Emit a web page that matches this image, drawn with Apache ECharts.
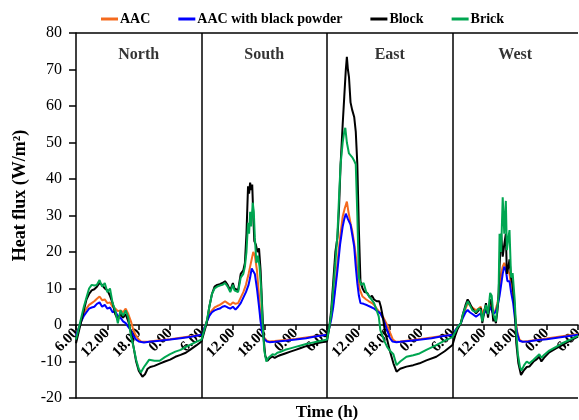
<!DOCTYPE html>
<html>
<head>
<meta charset="utf-8">
<script src="https://cdn.jsdelivr.net/npm/echarts@6/dist/echarts.min.js"></script>
<style>
  html, body { margin: 0; padding: 0; background: #fff; }
  #chart { width: 579px; height: 420px; }
</style>
</head>
<body>
<div id="chart"></div>
<script>
// each wall covers 24 h starting at 6.00; hours below count from that 6.00
const walls = ["North", "South", "East", "West"];
const hourLabels = ["6.00", "12.00", "18.00", "0.00"];
const names = ["AAC", "AAC with black powder", "Block", "Brick"];
const colors = ["#F46A1E", "#0000FF", "#000000", "#00A651"];

// AAC
const aacN = [[0,-3],[0.5,-1],[1,1],[1.5,3],[2,4.5],[2.5,5.5],[3,6],[3.5,6.5],[4,7.2],[4.5,7.8],[5,6.8],[5.5,7],[6,6],[6.5,6.2],[7,5],[7.5,4.5],[8,3.8],[8.5,4],[9,3.5],[9.5,4.5],[10,3],[10.5,1],[11,-1.5],[11.5,-3],[12,-4],[12.5,-4.6],[13,-4.6],[14,-4.5],[16,-4.2],[18,-3.9],[20,-3.5],[22,-3.1],[24,-2.7]];
const aacS = [[0,-2.7],[0.5,-1],[1,1],[1.5,3],[2,4],[2.5,4.8],[3,5.2],[3.5,5.5],[4,6],[4.5,6.5],[5,6],[5.5,5.5],[6,6.2],[6.5,5.8],[7,6],[7.5,7.5],[8,9],[8.5,11],[9,14],[9.3,16],[9.6,18],[9.9,20],[10.2,19],[10.6,15],[11,8],[11.3,2],[11.6,-1.5],[12,-3.5],[12.5,-4.3],[13,-4.5],[14,-4.4],[16,-4.1],[18,-3.8],[20,-3.4],[22,-3],[24,-2.6]];
const aacE = [[0,-2.6],[0.4,-1],[0.8,2],[1.2,6],[1.6,11],[2,17],[2.5,24],[3,29.7],[3.4,32],[3.8,33.8],[4.1,31],[4.5,27.9],[4.8,26],[5.2,22.4],[5.5,19],[5.8,15],[6.2,10],[6.8,7.8],[7.5,7],[8,6.5],[8.6,6],[9,5.5],[9.5,4.5],[10.2,3.2],[10.8,2],[11.5,0],[12.1,-2.2],[12.6,-4],[13.2,-4.6],[14,-4.5],[16,-4.2],[18,-3.8],[20,-3.4],[22,-3],[24,-2.6]];
const aacW = [[0,-2.6],[0.5,-1.5],[1,-0.5],[1.6,0.5],[2,2.5],[2.5,4.5],[2.9,5.9],[3.3,5.5],[3.8,4.8],[4.5,4],[5,4.5],[5.4,5],[5.7,3],[6,4],[6.4,5],[6.8,3.5],[7.2,6],[7.5,5.5],[7.8,3.5],[8.2,4],[8.6,6],[9,10],[9.3,14],[9.6,16],[9.9,17],[10.2,16],[10.5,15],[10.9,14],[11.2,11],[11.6,8],[12,2],[12.4,-2],[12.8,-4],[13.4,-4.6],[14.5,-4.4],[16,-4.1],[18,-3.7],[20,-3.3],[22,-2.9],[24,-2.5]];

// AAC with black powder
const blkN = [[0,-3],[0.5,-1],[1,1],[1.5,2.5],[2,3.5],[2.5,4.5],[3,4.8],[3.5,5],[4,5.8],[4.5,6.2],[5,5],[5.5,5.5],[6,4.5],[6.5,4.8],[7,3.5],[7.5,3.8],[8,2.5],[8.5,2],[9,1],[9.5,0.5],[10,-0.5],[10.5,-1.5],[11,-3],[11.5,-4],[12,-4.5],[13,-4.8],[14,-4.6],[16,-4.3],[18,-4],[20,-3.6],[22,-3.2],[24,-2.7]];
const blkS = [[0,-2.7],[0.5,-1],[1,0.8],[1.5,2.5],[2,3.5],[2.5,4],[3,4.3],[3.5,4.5],[4,5],[4.5,5.2],[5,4.8],[5.5,4.5],[6,5],[6.5,4.2],[7,5],[7.5,6],[8,7.5],[8.5,9],[9,11],[9.3,13],[9.6,15.5],[9.9,16],[10.2,14],[10.6,10],[11,5],[11.3,1],[11.6,-2],[12,-3.8],[12.5,-4.5],[13,-4.7],[14,-4.6],[16,-4.3],[18,-4],[20,-3.6],[22,-3.1],[24,-2.7]];
const blkE = [[0,-2.7],[0.4,-1],[0.8,1.5],[1.2,5],[1.6,10],[2,15],[2.5,22],[3,27],[3.3,29],[3.6,30.5],[4,29],[4.5,27.5],[4.8,25],[5.2,21.5],[5.5,16],[5.8,11.4],[6.1,8],[6.4,6],[7,5.8],[7.7,5.4],[8.3,5],[9,4.5],[9.6,3.8],[10.2,3.2],[10.8,1.5],[11.5,-1.4],[12,-3.5],[12.5,-4.5],[13.3,-4.7],[14,-4.6],[16,-4.3],[18,-4],[20,-3.6],[22,-3.1],[24,-2.7]];
const blkW = [[0,-2.7],[0.5,-1.5],[1,-0.5],[1.6,0.5],[2,2],[2.5,3.5],[2.9,4.1],[3.3,3.5],[3.8,3],[4.5,2.3],[5,2.8],[5.4,3.2],[5.7,2],[6,3],[6.4,4],[6.8,3],[7.2,5],[7.5,4.5],[7.8,3],[8.2,3.5],[8.6,5],[9,8],[9.3,11],[9.6,14],[9.9,16],[10.2,15],[10.5,12],[10.9,12],[11.2,9],[11.6,6],[12,1],[12.4,-2.5],[12.8,-4.3],[13.4,-4.6],[14.5,-4.5],[16,-4.2],[18,-3.9],[20,-3.5],[22,-3.1],[24,-2.7]];

// Block
const blockN = [[0,-5],[0.5,-2],[1,1],[1.5,4],[2,7],[2.5,8.5],[3,9.5],[3.5,9.8],[4,10.5],[4.5,11.5],[5,11],[5.5,10],[6,9.5],[6.5,8],[7,6],[7.5,3],[8,1.5],[8.5,3],[9,2],[9.5,3],[10,1],[10.5,-2],[11,-6],[11.5,-10],[12,-12.5],[12.7,-14.2],[13.2,-13.5],[13.7,-12],[14.2,-11.5],[15,-11.2],[16,-10.6],[17,-10],[18,-9.5],[19,-8.7],[20,-8.2],[21,-7.6],[22,-6.6],[23,-5.6],[24,-4.5]];
const blockS = [[0,-4.5],[0.5,-2],[1,0.5],[1.5,5],[2,8.5],[2.5,10.5],[3,11],[3.5,11.2],[4,11.5],[4.5,12],[5,11],[5.5,9.5],[6,11.5],[6.3,10],[7,9.5],[7.5,14],[8,15],[8.3,17],[8.6,25],[8.9,38],[9.1,36],[9.3,39],[9.5,37],[9.7,38.5],[9.9,30],[10.1,23],[10.4,22],[10.7,20],[11,21],[11.3,15],[11.6,5],[11.9,-4],[12.2,-8.5],[12.6,-9.8],[13,-9.2],[13.5,-8.6],[14,-9],[14.5,-8.6],[15,-8.3],[16,-7.8],[17,-7.3],[18,-6.8],[19,-6.3],[20,-5.8],[21,-5.5],[22,-5],[23,-4.7],[24,-4.5]];
const blockE = [[0,-4.5],[0.4,-1],[0.8,4],[1.2,12],[1.6,20],[2,24],[2.3,32],[2.6,44],[3,55],[3.3,62.5],[3.6,70],[3.8,73.5],[4,70],[4.2,68],[4.5,61],[4.8,59],[5.2,57],[5.5,53],[5.8,44],[6.1,26],[6.4,12],[6.8,10],[7.2,9],[7.7,8.8],[8.2,7.5],[8.6,8],[9,7],[9.5,6.5],[10,6.5],[10.3,5],[10.7,2],[11.1,-2],[11.5,-4],[12,-7],[12.7,-10.5],[13.3,-12.8],[14,-12],[15.2,-11.4],[16.5,-11],[17.7,-10.5],[19,-9.7],[20.9,-8.7],[22.5,-7.2],[24,-5.5]];
const blockW = [[0,-5.5],[0.5,-3],[1,-1],[1.6,0.5],[2,3],[2.5,5.5],[2.9,7],[3.3,6],[3.8,4.5],[4.5,3.2],[5,4],[5.4,4.6],[5.7,0.5],[6,3],[6.4,6],[6.8,2],[7.2,7],[7.5,6],[7.8,1],[8,2.3],[8.3,0.5],[8.6,4],[8.8,7.8],[9,16],[9.3,25],[9.6,18.7],[9.9,22],[10.2,25],[10.4,14],[10.7,16],[10.9,18],[11.2,13],[11.5,11],[11.9,5],[12.2,-5],[12.6,-10.5],[13.1,-13.7],[13.6,-12.5],[14.2,-11.5],[14.7,-11.4],[15.5,-10],[16,-9.5],[16.6,-8.7],[17,-10],[17.5,-9],[18.5,-7.5],[19.8,-6.4],[21,-5.5],[22.5,-4.3],[24,-3.2]];

// Brick
const brickN = [[0,-4],[0.5,-1],[1,2],[1.5,5],[2,7.5],[2.5,10],[3,11],[3.5,10.8],[4,11],[4.5,12.3],[5,10.5],[5.5,11.5],[6,9],[6.5,10],[7,6],[7.5,4],[8,0.5],[8.5,4],[9,2.5],[9.5,4],[10,2],[10.5,-3],[11,-6],[11.5,-9.5],[12,-12],[12.4,-13],[13,-11.5],[13.5,-10.5],[14,-9.5],[15,-9.8],[16,-9.8],[17,-8.8],[18,-8],[19,-7.3],[20,-6.8],[21,-6],[22,-5.3],[23,-4.6],[24,-4]];
const brickS = [[0,-4],[0.5,-1.5],[1,1],[1.5,5],[2,8.5],[2.5,10],[3,10.5],[3.5,10.8],[4,11],[4.5,11.5],[5,10.5],[5.5,9],[6,11],[6.3,9.5],[7,9],[7.5,13],[8,14],[8.3,16],[8.6,20],[8.9,28],[9.1,25],[9.3,31],[9.5,27],[9.8,33.5],[10,31],[10.2,24],[10.5,17],[10.8,19],[11.1,16],[11.4,10],[11.7,0],[12,-7],[12.4,-10],[12.8,-9],[13.2,-8.5],[13.6,-8],[14,-8.2],[14.5,-7.6],[15,-7.4],[16,-6.8],[17,-6.4],[18,-6],[19,-5.6],[20,-5.2],[21,-4.9],[22,-4.6],[23,-4.3],[24,-4]];
const brickE = [[0,-4],[0.4,-1],[0.8,3],[1.2,10],[1.6,17],[2,25],[2.3,35],[2.6,44],[3,50],[3.3,53],[3.5,54],[3.8,50],[4.2,47],[4.5,46.5],[4.8,46],[5.2,45],[5.5,44],[5.8,30],[6.1,13],[6.5,11],[7,11.5],[7.5,9],[8,8],[8.6,6.8],[9,6],[9.5,4],[9.9,2.3],[10.2,-1.4],[10.6,-3],[11,-4.5],[11.5,-6],[12,-7],[12.7,-8],[13.3,-11],[14,-10],[15.2,-8.7],[16.5,-8.3],[17.7,-7.8],[19,-6.8],[20.9,-5.5],[22.5,-4.3],[24,-3.3]];
const brickW = [[0,-3.3],[0.5,-2],[1,-0.5],[1.6,0.5],[2,3],[2.5,5],[2.9,6.5],[3.3,5.5],[3.8,4],[4.5,3.5],[5,4.5],[5.4,4],[5.7,1],[6,3.5],[6.4,5.5],[6.8,3],[7.2,8.8],[7.5,8],[7.8,3],[8,2],[8.3,1],[8.6,5],[8.8,8],[9,25],[9.3,20],[9.6,35],[9.9,25],[10.2,34],[10.4,20.5],[10.7,24],[10.9,26],[11.2,13],[11.5,14.2],[11.9,6.8],[12.2,-2.2],[12.5,-8],[12.9,-11.5],[13.2,-12.5],[13.7,-11],[14.2,-10],[14.7,-10.5],[15.5,-9.5],[16,-8.8],[16.6,-8],[17,-9],[17.5,-8.2],[18.5,-7],[19.8,-6],[21,-5],[22.5,-4],[24,-3]];

const seriesData = [
  [aacN, aacS, aacE, aacW],
  [blkN, blkS, blkE, blkW],
  [blockN, blockS, blockE, blockW],
  [brickN, brickS, brickE, brickW],
];

// put the 4 walls one after another on one 96 h axis
const joinWalls = (parts) =>
  parts.flatMap((part, i) => part.map(([h, v]) => [h + 24 * i, v]));

const font = "Liberation Serif";
const yMin = -20;
const yMax = 80;
const gridTop = 33;
const gridBottom = 22;
const gridH = 420 - gridTop - gridBottom;
// lift the time axis from the plot bottom up to the zero line
const zeroLift = (gridH * (0 - yMin)) / (yMax - yMin);

const chart = echarts.init(document.getElementById("chart"));

const lineSeries = names.map((name, i) => ({
  name,
  type: "line",
  data: joinWalls(seriesData[i]),
  showSymbol: false,
  symbol: "none",
  lineStyle: { color: colors[i], width: 2 },
  itemStyle: { color: colors[i] },
  z: 2 + i,
  animation: false,
}));

chart.setOption({
  animation: false,
  grid: {
    left: 76,
    right: 1,
    top: gridTop,
    bottom: gridBottom,
    containLabel: false,
    outerBoundsMode: "none",
  },
  legend: {
    data: names,
    top: 12,
    left: 101,
    icon: "rect",
    itemWidth: 17,
    itemHeight: 3,
    itemGap: 28,
    padding: 0,
    textStyle: { fontFamily: font, fontWeight: "bold", fontSize: 14, color: "#000", padding: [0, 0, 0, -3] },
  },
  xAxis: {
    type: "value",
    position: "bottom",
    offset: -zeroLift,
    min: 0,
    max: 96,
    interval: 6,
    name: "Time (h)",
    nameLocation: "middle",
    nameGap: 79,
    nameTextStyle: { fontFamily: font, fontWeight: "bold", fontSize: 17, color: "#000" },
    axisLine: { onZero: false, lineStyle: { color: "#000", width: 1.5 } },
    axisTick: { show: true, length: 5, lineStyle: { color: "#000", width: 1.5 } },
    splitLine: { show: false },
    axisLabel: {
      rotate: 45,
      margin: 6,
      showMinLabel: true,
      showMaxLabel: true,
      fontFamily: font,
      fontWeight: "bold",
      fontSize: 15,
      color: "#000",
      formatter: (v) => hourLabels[Math.round(v % 24) / 6],
    },
  },
  yAxis: {
    type: "value",
    min: yMin,
    max: yMax,
    interval: 10,
    name: "Heat flux (W/m\u00B2)",
    nameLocation: "middle",
    nameRotate: 90,
    nameGap: 46,
    nameTextStyle: { fontFamily: font, fontWeight: "bold", fontSize: 18, color: "#000", padding: [0, 0, 0, 40] },
    axisLine: { show: true, lineStyle: { color: "#000", width: 1.5 } },
    axisTick: { show: true, length: 7, lineStyle: { color: "#000", width: 1.5 } },
    splitLine: { show: false },
    axisLabel: { fontFamily: font, fontSize: 16, color: "#000", margin: 14 },
  },
  series: [
    ...lineSeries,
    {
      name: "walls",
      type: "scatter",
      data: walls.map((w, i) => [12 + 24 * i, 74, w]),
      symbolSize: 0,
      silent: true,
      label: {
        show: true,
        position: "inside",
        formatter: (p) => p.data[2],
        fontFamily: font,
        fontWeight: "bold",
        fontSize: 16,
        color: "#000",
      },
      markLine: {
        silent: true,
        symbol: ["none", "none"],
        label: { show: false },
        lineStyle: { color: "#000", width: 1.5, type: "solid" },
        data: [{ xAxis: 24 }, { xAxis: 48 }, { xAxis: 72 }, { yAxis: 80 }, { yAxis: -20 }],
      },
      z: 10,
    },
  ],
});
</script>
</body>
</html>
